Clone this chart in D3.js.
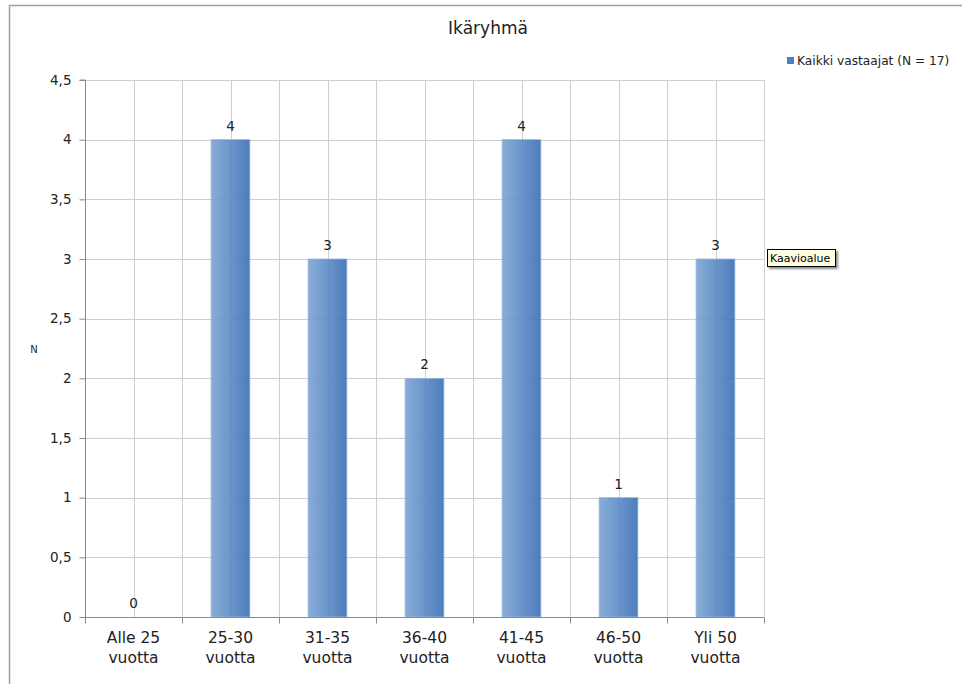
<!DOCTYPE html>
<html>
<head>
<meta charset="utf-8">
<script src="https://cdn.jsdelivr.net/npm/d3@7"></script>
<style>
  html, body { margin: 0; padding: 0; background: #fff; }
  svg { display: block; font-family: "DejaVu Sans", Verdana, sans-serif; }
</style>
</head>
<body>
<svg id="chart" width="962" height="684"></svg>
<script>
// Age groups and respondent counts
const categories = [["Alle 25", "vuotta"], ["25-30", "vuotta"], ["31-35", "vuotta"], ["36-40", "vuotta"], ["41-45", "vuotta"], ["46-50", "vuotta"], ["Yli 50", "vuotta"]];
const counts = [0, 4, 3, 2, 4, 1, 3];
const yTicks = [0, 0.5, 1, 1.5, 2, 2.5, 3, 3.5, 4, 4.5];
const title = "Ikäryhmä";
const seriesName = "Kaikki vastaajat (N = 17)";
const yTitle = "N";
const tipText = "Kaavioalue";

const svg = d3.select("#chart");
const plot = { left: 85, right: 764, top: 80, bottom: 617 };

const defs = svg.append("defs");
const grad = defs.append("linearGradient").attr("id", "barGrad")
  .attr("x1", "0").attr("x2", "1").attr("y1", "0").attr("y2", "0");
grad.append("stop").attr("offset", "0").attr("stop-color", "#7ca4d3");
grad.append("stop").attr("offset", "1").attr("stop-color", "#3a6fb6");
const shadow = defs.append("filter").attr("id", "tipShadow").attr("x", "-20%").attr("y", "-30%").attr("width", "150%").attr("height", "180%");
shadow.append("feDropShadow").attr("dx", 2).attr("dy", 2).attr("stdDeviation", 1.2).attr("flood-color", "#000").attr("flood-opacity", 0.45);

// Outer chart frame
svg.append("rect").attr("x", 9.5).attr("y", 5.5).attr("width", 970).attr("height", 700)
  .attr("fill", "#fff").attr("stroke", "#a0a0a0").attr("stroke-width", 1.5);

const x = d3.scaleBand().domain(d3.range(categories.length)).range([plot.left, plot.right]);
const y = d3.scaleLinear().domain([0, 4.5]).range([plot.bottom, plot.top]);

// Gridlines: horizontal at each tick, vertical at band edges and centres
const grid = svg.append("g").attr("stroke", "#cfcfcf").attr("stroke-width", 1);
yTicks.slice(1).forEach(t => {
  grid.append("line").attr("x1", plot.left).attr("x2", plot.right)
    .attr("y1", Math.round(y(t)) + 0.5).attr("y2", Math.round(y(t)) + 0.5);
});
const vlines = [];
d3.range(categories.length).forEach(i => {
  vlines.push(x(i) + x.bandwidth() / 2);
  vlines.push(x(i) + x.bandwidth());
});
vlines.forEach(v => {
  grid.append("line").attr("x1", Math.round(v) + 0.5).attr("x2", Math.round(v) + 0.5)
    .attr("y1", plot.top).attr("y2", plot.bottom);
});

// Bars
const barW = x.bandwidth() * 0.4;
svg.append("g").selectAll("rect").data(counts).join("rect")
  .attr("x", (d, i) => x(i) + (x.bandwidth() - barW) / 2)
  .attr("y", d => y(d))
  .attr("width", barW)
  .attr("height", d => y(0) - y(d))
  .attr("fill", "url(#barGrad)")
  .attr("fill-opacity", 0.9)
  .attr("stroke", "#9ab8dd").attr("stroke-width", 0.8);

// Value labels
svg.append("g").selectAll("text").data(counts).join("text")
  .attr("x", (d, i) => x(i) + x.bandwidth() / 2)
  .attr("y", d => y(d) - 9)
  .attr("text-anchor", "middle")
  .attr("font-size", 13.5).attr("fill", "#222")
  .text(d => d);

// Y axis
const yAxis = d3.axisLeft(y).tickValues(yTicks).tickSize(6).tickPadding(8)
  .tickFormat(d => d3.format("")(d).replace(".", ","));
const ya = svg.append("g").attr("transform", `translate(${plot.left + 0.5},0)`).call(yAxis);
ya.select(".domain").attr("stroke", "#8a8a8a").attr("d", `M-6,${plot.top}H0V${plot.bottom}`);
ya.selectAll(".tick line").attr("stroke", "#8a8a8a");
ya.selectAll(".tick text").attr("font-size", 13.5).attr("fill", "#222").attr("font-family", "DejaVu Sans, Verdana, sans-serif");

// X axis
const xAxis = d3.axisBottom(x).tickSize(0).tickFormat(() => "");
const xa = svg.append("g").attr("transform", `translate(0,${plot.bottom + 0.5})`).call(xAxis);
xa.select(".domain").attr("stroke", "#8a8a8a").attr("d", `M${plot.left},0H${plot.right}`);
[plot.left].concat(d3.range(categories.length).map(i => x(i) + x.bandwidth())).forEach(v => {
  xa.append("line").attr("x1", Math.round(v) + 0.5).attr("x2", Math.round(v) + 0.5)
    .attr("y1", 0).attr("y2", 6).attr("stroke", "#8a8a8a");
});
const catLabels = svg.append("g").attr("font-size", 15.5).attr("fill", "#222").attr("text-anchor", "middle");
categories.forEach((c, i) => {
  const t = catLabels.append("text").attr("x", x(i) + x.bandwidth() / 2).attr("y", 643);
  c.forEach((line, j) => t.append("tspan").attr("x", x(i) + x.bandwidth() / 2).attr("dy", j === 0 ? 0 : 20).text(line));
});

// Titles
svg.append("text").attr("x", 488).attr("y", 34).attr("text-anchor", "middle")
  .attr("font-size", 17).attr("fill", "#222").text(title);
svg.append("text").attr("x", 34).attr("y", 353).attr("text-anchor", "middle")
  .attr("font-size", 10).attr("fill", "#222").text(yTitle);

// Legend
const lg = svg.append("g").attr("transform", "translate(787,55)");
lg.append("rect").attr("x", 0).attr("y", 2).attr("width", 7).attr("height", 7).attr("fill", "#4a7ec2");
lg.append("text").attr("x", 10).attr("y", 10).attr("font-size", 12.2).attr("fill", "#222")
  .attr("font-family", "DejaVu Sans, sans-serif").text(seriesName);

// Hover tip
const tip = svg.append("g").attr("transform", "translate(767,249)");
tip.append("rect").attr("x", 0.5).attr("y", 0.5).attr("width", 68).attr("height", 17)
  .attr("fill", "#ffffe1").attr("stroke", "#000").attr("stroke-width", 1).attr("filter", "url(#tipShadow)");
tip.append("text").attr("x", 3).attr("y", 13).attr("font-size", 11).attr("fill", "#000")
  .attr("font-family", "DejaVu Sans, sans-serif").text(tipText);
</script>
</body>
</html>
